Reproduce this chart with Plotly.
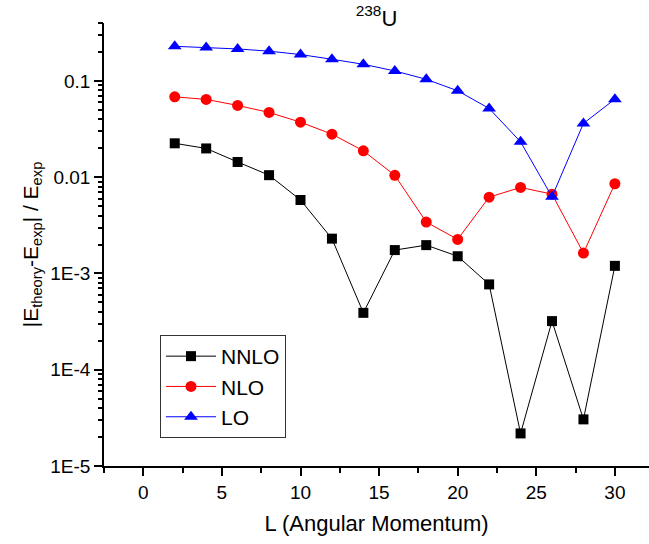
import plotly.graph_objects as go

# Angular momentum values
L = [2, 4, 6, 8, 10, 12, 14, 16, 18, 20, 22, 24, 26, 28, 30]

# Relative deviation |E_theory - E_exp| / E_exp for each order
nnlo = [0.0225, 0.0199, 0.0144, 0.0105, 0.0058, 0.0023, 3.9e-4, 1.75e-3,
        1.97e-3, 1.51e-3, 7.7e-4, 2.18e-5, 3.2e-4, 3.05e-5, 1.2e-3]
nlo = [0.0684, 0.0643, 0.0557, 0.0471, 0.0373, 0.0280, 0.0188, 0.01045,
       0.00342, 0.00226, 0.00621, 0.00783, 0.00667, 0.00163, 0.00855]
lo = [0.229, 0.223, 0.215, 0.204, 0.188, 0.168, 0.149, 0.127,
      0.104, 0.079, 0.0518, 0.0233, 0.00626, 0.0362, 0.0647]

# Decade ticks on the log axis, plus the 2..9 minor ticks in between
y_tickvals = [1e-5, 1e-4, 1e-3, 1e-2, 1e-1]
y_ticktext = ["1E-5", "1E-4", "1E-3", "0.01", "0.1"]
y_minor = [k * 10.0 ** e for e in range(-5, 0) for k in range(2, 10)]

FONT = "Liberation Sans, Arial, sans-serif"
Y_RANGE = [-5, -0.398]

fig = go.Figure()
fig.add_trace(go.Scatter(
    x=L, y=nnlo, name="NNLO", mode="lines+markers",
    line=dict(color="black", width=1),
    marker=dict(symbol="square", size=10, color="black"),
))
fig.add_trace(go.Scatter(
    x=L, y=nlo, name="NLO", mode="lines+markers",
    line=dict(color="red", width=1),
    marker=dict(symbol="circle", size=11, color="red"),
))
fig.add_trace(go.Scatter(
    x=L, y=lo, name="LO", mode="lines+markers",
    line=dict(color="blue", width=1),
    marker=dict(symbol="triangle-up", size=12, color="blue"),
))
# empty trace so the overlaid minor-tick axis gets drawn
fig.add_trace(go.Scatter(
    x=[], y=[], yaxis="y2", showlegend=False, hoverinfo="skip",
))

fig.update_layout(
    width=649, height=544,
    margin=dict(l=104, r=0, t=23, b=78),
    paper_bgcolor="white", plot_bgcolor="white",
    font=dict(family=FONT, color="black"),
    title=dict(
        text="<sup>238</sup>U", x=0.5, xref="paper", xanchor="center",
        y=1 - 18 / 544, yref="container", yanchor="middle",
        font=dict(size=22, family=FONT, color="black"),
    ),
    legend=dict(
        x=(160 - 104) / 545, y=(466 - 335) / 443,
        xanchor="left", yanchor="top",
        bordercolor="#333333", borderwidth=1, bgcolor="white",
        itemwidth=50,
        font=dict(size=21, family=FONT, color="black"),
    ),
    xaxis=dict(
        range=[-2.5, 32.17], showgrid=False, zeroline=False,
        showline=True, linecolor="black", linewidth=1.5,
        ticks="outside", ticklen=8, tickwidth=1.5, tickcolor="black",
        tickmode="linear", tick0=0, dtick=5,
        minor=dict(ticks="outside", ticklen=5, tickwidth=1.5,
                   tickcolor="black", dtick=2.5, tick0=0, showgrid=False),
        tickfont=dict(size=19, family=FONT, color="black"),
        title=dict(text="L (Angular Momentum)", standoff=14,
                   font=dict(size=22, family=FONT, color="black")),
    ),
    yaxis=dict(
        type="log", range=Y_RANGE, showgrid=False, zeroline=False,
        showline=True, linecolor="black", linewidth=1.5,
        ticks="outside", ticklen=8, tickwidth=1.5, tickcolor="black",
        tickmode="array", tickvals=y_tickvals, ticktext=y_ticktext,
        tickfont=dict(size=19, family=FONT, color="black"),
        title=dict(text="|E<sub>theory</sub>-E<sub>exp</sub>| / E<sub>exp</sub>",
                   standoff=6,
                   font=dict(size=21, family=FONT, color="black")),
    ),
    yaxis2=dict(
        type="log", range=Y_RANGE, overlaying="y", side="left",
        showgrid=False, zeroline=False, showline=False,
        ticks="outside", ticklen=5, tickwidth=1.5, tickcolor="black",
        tickmode="array", tickvals=y_minor, showticklabels=False,
    ),
)

fig.write_html("out.html")
